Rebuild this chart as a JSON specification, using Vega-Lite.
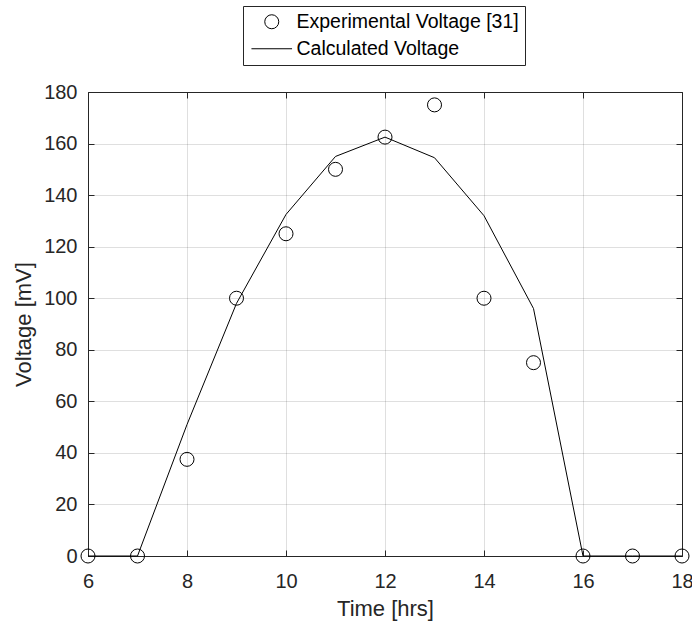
{
  "$schema": "https://vega.github.io/schema/vega-lite/v6.json",
  "autosize": {"type": "none"},
  "width": 594,
  "height": 464,
  "padding": {"left": 88, "top": 92, "right": 10, "bottom": 70},
  "background": "white",
  "config": {
    "font": "Liberation Sans",
    "view": {"stroke": null},
    "axis": {
      "domainColor": "#262626",
      "domainWidth": 1,
      "tickColor": "#262626",
      "tickSize": -6,
      "labelColor": "#262626",
      "labelFont": "Liberation Sans",
      "labelFontSize": 20,
      "labelFlush": false,
      "labelOverlap": false,
      "titleFont": "Liberation Sans",
      "titleFontSize": 22,
      "titleFontWeight": "normal",
      "titleColor": "#262626",
      "gridColor": "#262626",
      "gridOpacity": 0.15,
      "gridWidth": 1
    }
  },
  "data": {"values": [
    {"series": "Experimental Voltage [31]", "time": 6, "voltage": 0},
    {"series": "Experimental Voltage [31]", "time": 7, "voltage": 0},
    {"series": "Experimental Voltage [31]", "time": 8, "voltage": 37.5},
    {"series": "Experimental Voltage [31]", "time": 9, "voltage": 100},
    {"series": "Experimental Voltage [31]", "time": 10, "voltage": 125},
    {"series": "Experimental Voltage [31]", "time": 11, "voltage": 150},
    {"series": "Experimental Voltage [31]", "time": 12, "voltage": 162.5},
    {"series": "Experimental Voltage [31]", "time": 13, "voltage": 175},
    {"series": "Experimental Voltage [31]", "time": 14, "voltage": 100},
    {"series": "Experimental Voltage [31]", "time": 15, "voltage": 75},
    {"series": "Experimental Voltage [31]", "time": 16, "voltage": 0},
    {"series": "Experimental Voltage [31]", "time": 17, "voltage": 0},
    {"series": "Experimental Voltage [31]", "time": 18, "voltage": 0},
    {"series": "Calculated Voltage", "time": 6, "voltage": 0},
    {"series": "Calculated Voltage", "time": 7, "voltage": 0},
    {"series": "Calculated Voltage", "time": 8, "voltage": 51},
    {"series": "Calculated Voltage", "time": 9, "voltage": 98},
    {"series": "Calculated Voltage", "time": 10, "voltage": 132.5},
    {"series": "Calculated Voltage", "time": 11, "voltage": 155},
    {"series": "Calculated Voltage", "time": 12, "voltage": 162.5},
    {"series": "Calculated Voltage", "time": 13, "voltage": 154.5},
    {"series": "Calculated Voltage", "time": 14, "voltage": 132},
    {"series": "Calculated Voltage", "time": 15, "voltage": 96},
    {"series": "Calculated Voltage", "time": 16, "voltage": 0},
    {"series": "Calculated Voltage", "time": 17, "voltage": 0},
    {"series": "Calculated Voltage", "time": 18, "voltage": 0}
  ]},
  "layer": [
    {
      "transform": [{"filter": "datum.series === 'Calculated Voltage'"}],
      "mark": {"type": "line", "color": "black", "strokeWidth": 1},
      "encoding": {
        "x": {"field": "time", "type": "quantitative", "scale": {"domain": [6, 18], "nice": false},
              "axis": {"orient": "top", "labels": false, "title": null, "grid": false, "values": [6, 8, 10, 12, 14, 16, 18]}},
        "y": {"field": "voltage", "type": "quantitative", "scale": {"domain": [0, 180], "nice": false},
              "axis": {"orient": "right", "labels": false, "title": null, "grid": false, "values": [0, 20, 40, 60, 80, 100, 120, 140, 160, 180]}}
      }
    },
    {
      "transform": [{"filter": "datum.series === 'Experimental Voltage [31]'"}],
      "mark": {"type": "point", "filled": false, "stroke": "black", "strokeWidth": 1, "size": 196, "opacity": 1},
      "encoding": {
        "x": {"field": "time", "type": "quantitative", "scale": {"domain": [6, 18], "nice": false},
              "axis": {"orient": "bottom", "title": "Time [hrs]", "grid": true, "values": [6, 8, 10, 12, 14, 16, 18], "labelPadding": 21, "titlePadding": 7}},
        "y": {"field": "voltage", "type": "quantitative", "scale": {"domain": [0, 180], "nice": false},
              "axis": {"orient": "left", "title": "Voltage [mV]", "grid": true, "values": [0, 20, 40, 60, 80, 100, 120, 140, 160, 180], "labelPadding": 17, "titlePadding": 8}},
        "shape": {
          "field": "series", "type": "nominal",
          "scale": {"domain": ["Experimental Voltage [31]", "Calculated Voltage"], "range": ["circle", "M-2.9,0H2.9"]},
          "legend": {
            "orient": "none", "legendX": 155, "legendY": -86,
            "title": null,
            "strokeColor": "#262626",
            "fillColor": "white",
            "padding": 6,
            "symbolSize": 196,
            "symbolOffset": 13,
            "symbolFillColor": "transparent",
            "symbolStrokeColor": "black",
            "symbolStrokeWidth": 1,
            "labelFont": "Liberation Sans",
            "labelFontSize": 19.5,
            "labelColor": "black",
            "labelOffset": 15,
            "labelLimit": 0,
            "rowPadding": 6
          }
        }
      }
    }
  ],
  "resolve": {"axis": {"x": "independent", "y": "independent"}}
}
